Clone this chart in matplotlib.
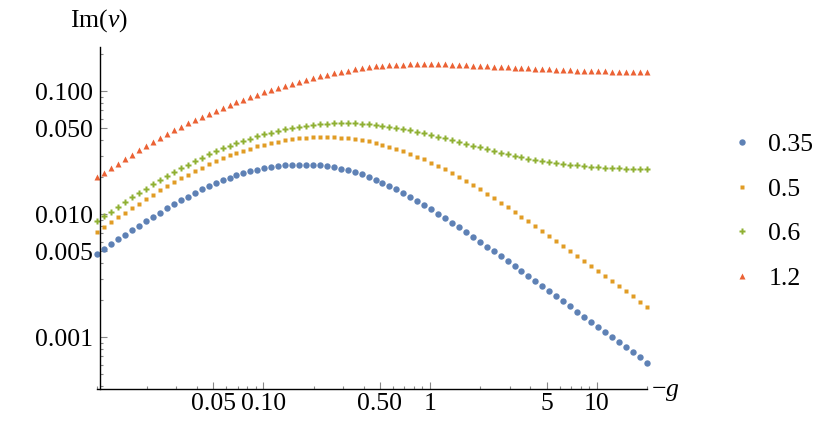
import numpy as np
import matplotlib
matplotlib.use('Agg')
import matplotlib.pyplot as plt

plt.rcParams['font.family'] = ['Liberation Serif', 'DejaVu Serif']
plt.rcParams['mathtext.fontset'] = 'custom'
plt.rcParams['mathtext.rm'] = 'Liberation Serif'
plt.rcParams['mathtext.it'] = 'Liberation Serif:italic'

# -g sampled on a log grid, 80 points
g = np.geomspace(0.0101, 19.9, 80)

labels = ['0.35', '0.5', '0.6', '1.2']

im_035 = [0.00476, 0.00519, 0.00570, 0.00626, 0.00683, 0.00741, 0.00808, 0.00877, 0.00957, 0.0103,
          0.0112, 0.0121, 0.0130, 0.0139, 0.0149, 0.0160, 0.0169, 0.0179, 0.0189, 0.0199,
          0.0207, 0.0217, 0.0225, 0.0231, 0.0238, 0.0241, 0.0245, 0.0250, 0.0252, 0.0252,
          0.0252, 0.0252, 0.0250, 0.0245, 0.0241, 0.0235, 0.0228, 0.0219, 0.0211, 0.0202,
          0.0191, 0.0181, 0.0171, 0.0160, 0.0149, 0.0139, 0.0129, 0.0120, 0.0110, 0.0101,
          0.00927, 0.00855, 0.00784, 0.00714, 0.00654, 0.00595, 0.00546, 0.00500, 0.00455, 0.00415,
          0.00378, 0.00344, 0.00313, 0.00285, 0.00260, 0.00236, 0.00215, 0.00196, 0.00179, 0.00162,
          0.00147, 0.00133, 0.00121, 0.00110, 0.00101, 0.000916, 0.000834, 0.000760, 0.000688, 0.000622]

im_05 = [0.00723, 0.00793, 0.00866, 0.00945, 0.0103, 0.01125, 0.0122, 0.0133, 0.0144, 0.0157,
         0.0170, 0.0183, 0.0196, 0.0210, 0.0225, 0.0239, 0.0255, 0.0270, 0.0285, 0.0302,
         0.0317, 0.0327, 0.0342, 0.0357, 0.0366, 0.0378, 0.0390, 0.0399, 0.0407, 0.0415,
         0.0420, 0.0423, 0.0425, 0.0425, 0.0423, 0.0420, 0.0415, 0.0410, 0.0402, 0.0392,
         0.0380, 0.0368, 0.0355, 0.0342, 0.0327, 0.0311, 0.0294, 0.0280, 0.0263, 0.0247,
         0.0232, 0.0217, 0.0201, 0.0187, 0.0173, 0.0160, 0.0146, 0.0135, 0.0124, 0.0114,
         0.0104, 0.00957, 0.00877, 0.00798, 0.00727, 0.00662, 0.00603, 0.00549, 0.00500, 0.00455,
         0.00415, 0.00378, 0.00344, 0.00313, 0.00285, 0.00260, 0.00236, 0.00215, 0.00195, 0.00178]

im_06 = [0.00877, 0.00963, 0.0105, 0.0115, 0.0125, 0.0137, 0.0148, 0.0162, 0.0175, 0.0189,
         0.0204, 0.0219, 0.0236, 0.0253, 0.0270, 0.0289, 0.0307, 0.0327, 0.0344, 0.0361,
         0.0380, 0.0394, 0.0412, 0.0430, 0.0447, 0.0461, 0.0479, 0.0491, 0.0503, 0.0516,
         0.0526, 0.0532, 0.0539, 0.0546, 0.0549, 0.0549, 0.0549, 0.0549, 0.0546, 0.0539,
         0.0532, 0.0522, 0.0513, 0.0503, 0.0494, 0.0482, 0.0470, 0.0455, 0.0441, 0.0428,
         0.0415, 0.0399, 0.0385, 0.0373, 0.0361, 0.0350, 0.0337, 0.0327, 0.0317, 0.0307,
         0.0298, 0.0291, 0.0283, 0.0278, 0.0271, 0.0266, 0.0261, 0.0258, 0.0253, 0.0250,
         0.0247, 0.0244, 0.0241, 0.0239, 0.0238, 0.0236, 0.0235, 0.0233, 0.0233, 0.0232]

im_12 = [0.0201, 0.0218, 0.0238, 0.0258, 0.0282, 0.0305, 0.0331, 0.0359, 0.0390, 0.0420,
         0.0450, 0.0482, 0.0516, 0.0549, 0.0584, 0.0618, 0.0658, 0.0696, 0.0736, 0.0774,
         0.0813, 0.0855, 0.0899, 0.0939, 0.0981, 0.1031, 0.1071, 0.1111, 0.1154, 0.1198,
         0.1243, 0.1283, 0.1331, 0.1366, 0.1409, 0.1444, 0.1472, 0.1509, 0.1537, 0.1566,
         0.1596, 0.1616, 0.1636, 0.1646, 0.1646, 0.1657, 0.1667, 0.1667, 0.1667, 0.1667,
         0.1657, 0.1646, 0.1636, 0.1626, 0.1616, 0.1606, 0.1596, 0.1586, 0.1576, 0.1566,
         0.1556, 0.1547, 0.1537, 0.1518, 0.1518, 0.1509, 0.1499, 0.1490, 0.1481, 0.1472,
         0.1472, 0.1463, 0.1454, 0.1454, 0.1444, 0.1444, 0.1435, 0.1435, 0.1426, 0.1426]

xticks = [0.05, 0.1, 0.5, 1, 5, 10]
xticklabels = ['0.05', '0.10', '0.50', '1', '5', '10']
xminor = [0.01, 0.02, 0.03, 0.04, 0.06, 0.07, 0.08, 0.09, 0.2, 0.3, 0.4, 0.6, 0.7, 0.8, 0.9,
          2, 3, 4, 6, 7, 8, 9, 20]
yticks = [0.001, 0.005, 0.01, 0.05, 0.1]
yticklabels = ['0.001', '0.005', '0.010', '0.050', '0.100']
yminor = [0.0004, 0.0005, 0.0006, 0.0007, 0.0008, 0.0009, 0.002, 0.003, 0.004, 0.006, 0.007,
          0.008, 0.009, 0.02, 0.03, 0.04, 0.06, 0.07, 0.08, 0.09, 0.2]

colors = ['#5E81B5', '#E19C24', '#8FB032', '#EB6235']
markers = ['o', 's', 'P', '^']
msizes = [4.6, 3.3, 4.1, 4.3]

fig = plt.figure(figsize=(8.3, 4.28), dpi=100)
ax = fig.add_axes([96.7 / 830, 39 / 428, 550.3 / 830, 342.3 / 428])

for ys, c, m, ms, lab in zip([im_035, im_05, im_06, im_12], colors, markers, msizes, labels):
    ax.plot(g, ys, ls='none', marker=m, ms=ms, color=c, mec='none', label=lab, clip_on=False)

ax.set_xscale('log')
ax.set_yscale('log')
ax.set_xlim(0.0101, 19.93)
ax.set_ylim(0.000380, 0.2305)

ax.spines['top'].set_visible(False)
ax.spines['right'].set_visible(False)
ax.spines['left'].set_position(('data', 0.01048))
for s in ('left', 'bottom'):
    ax.spines[s].set_linewidth(1.0)

fs = 18.5
ax.set_xticks(xticks, xticklabels)
ax.set_xticks(xminor, minor=True)
ax.set_yticks(yticks, yticklabels)
ax.set_yticks(yminor, minor=True)
ax.tick_params(which='both', direction='in', color='#888888', width=0.8, labelsize=fs)
ax.tick_params(which='major', length=5)
ax.tick_params(which='minor', length=2.5, labelbottom=False, labelleft=False)
ax.tick_params(axis='x', pad=3)
ax.tick_params(axis='y', pad=5)

fig.text(99 / 830, 1 - 21 / 428, r'$\mathrm{Im}(\nu)$', ha='center', va='center', fontsize=fs)
fig.text(651 / 830, 1 - 392 / 428, r'$-g$', ha='left', va='center', fontsize=fs)

fig.legend(loc='center left', bbox_to_anchor=(729.2 / 830, 0.5054), frameon=False,
           fontsize=fs, handlelength=1.0, handletextpad=0.52, labelspacing=0.84,
           borderpad=0, borderaxespad=0, markerscale=1.0)

fig.savefig('out.png', dpi=100)
